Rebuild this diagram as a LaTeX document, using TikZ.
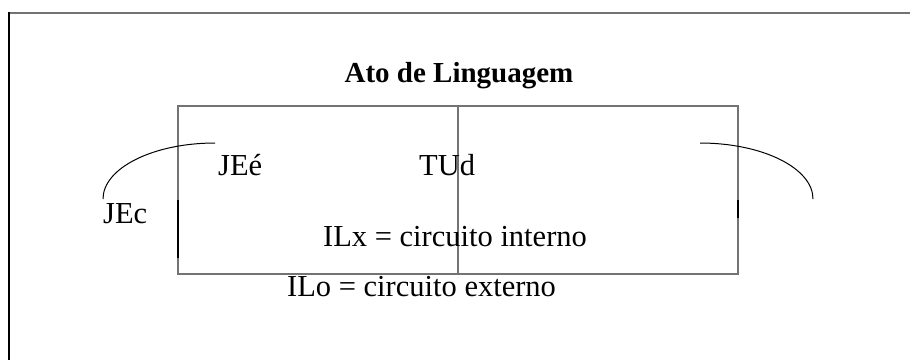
\documentclass[tikz,border=0pt]{standalone}
\usepackage{fontspec}
\setmainfont{Liberation Serif}
\begin{document}
\begin{tikzpicture}[x=1pt,y=-1pt,
  lbl/.style={inner sep=0pt,anchor=base west,font=\fontsize{30.5}{36}\selectfont},
  boxline/.style={draw=black!55,line width=1.3pt},
  arcline/.style={draw=black,line width=1pt}]
\useasboundingbox (0,0) rectangle (910,360);
% outer frame
\draw[black!55,line width=2pt] (9,12.5) -- (910,12.5);
\draw[black,line width=1.2pt] (9,12) -- (9,360);
% title
\node[inner sep=0pt,anchor=base,font=\bfseries\fontsize{29}{34}\selectfont] (title) at (459,82) {Ato de Linguagem};
% main box
\coordinate (tl) at (178,106);
\coordinate (br) at (738,274);
\draw[boxline] (tl) rectangle (br);
\draw[boxline] (458,106) -- (458,274);
\draw[black,line width=1.3pt] (178,200) -- (178,258);
\draw[black,line width=1.3pt] (738,200) -- (738,218);
% arcs
\draw[arcline] (215,143) arc[start angle=270,end angle=180,x radius=112,y radius=56];
\draw[arcline] (700,143) arc[start angle=270,end angle=360,x radius=113,y radius=56];
% labels
\node[lbl] (jee) at (218,175) {JEé};
\node[lbl] (tud) at (419,175) {TUd};
\node[lbl] (jec) at (103,223) {JEc};
\node[lbl] (ilx) at (323,246) {ILx = circuito interno};
\node[lbl] (ilo) at (287,296) {ILo = circuito externo};
\end{tikzpicture}
\end{document}
